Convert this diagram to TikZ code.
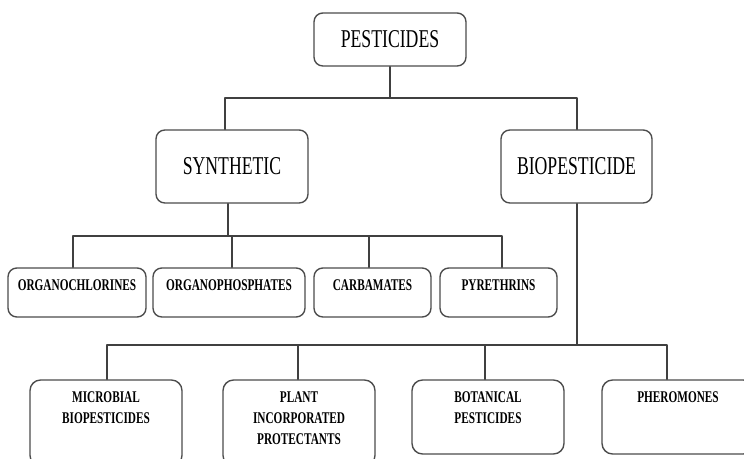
\documentclass[tikz,border=0pt]{standalone}
\usepackage{fontspec}
\setmainfont{Liberation Serif}[FakeStretch=0.69]
\begin{document}
\begin{tikzpicture}[x=0.02cm,y=-0.02cm, line join=round, line cap=round,
	box/.style={draw=black!70, line width=0.8pt, rounded corners=5pt, inner sep=0pt},
	link/.style={draw=black!75, line width=0.8pt},
	big/.style={font=\fontsize{14.6}{17}\selectfont},
	small/.style={font=\bfseries\fontsize{9.3}{11.95}\selectfont, align=center, inner sep=0pt, anchor=north}]
	\useasboundingbox (0,0) rectangle (744,459);
	\clip (0,0) rectangle (744,459);
	% top levels
	\node[box,big, minimum width=3.04cm, minimum height=1.06cm] (pest) at (390,39.5) {PESTICIDES};
	\node[box,big, minimum width=3.04cm, minimum height=1.46cm] (synth) at (232,166.5) {\raisebox{-2.5pt}{SYNTHETIC}};
	\node[box,big, minimum width=3.02cm, minimum height=1.46cm] (bio) at (576.5,166.5) {\raisebox{-2.5pt}{BIOPESTICIDE}};
	\coordinate (t1) at (225,98); \coordinate (t2) at (577,98);
	\draw[link] (pest) -- (pest |- t1);
	\draw[link] (synth.north -| t1) |- (t2) -- (bio.north -| t2);
	% synthetic
	\foreach \n/\x/\w/\t in {ochl/77/2.76/ORGANOCHLORINES, ophos/229/3.04/ORGANOPHOSPHATES, carb/372.5/2.34/CARBAMATES, pyr/498.5/2.34/PYRETHRINS}{
		\node[box, minimum width=\w cm, minimum height=0.98cm] (\n) at (\x,292.5) {};
		\node[small] (\n-t) at (\n.north) [yshift=-6.6pt] {\t};}
	\coordinate (s1) at (73,236); \coordinate (s2) at (502,236);
	\draw[link] (synth.south -| 228,0) -- (228,236);
	\draw[link] (ochl.north -| s1) |- (s2) -- (pyr.north -| s2);
	\draw[link] (ophos.north -| 232,0) -- (232,236);
	\draw[link] (carb.north -| 369,0) -- (369,236);
	% biopesticide
	\node[box, rounded corners=6pt, minimum width=3.04cm, minimum height=1.72cm] (micro) at (106,423) {};
	\node[box, rounded corners=6pt, minimum width=3.04cm, minimum height=1.72cm] (plant) at (299,423) {};
	\node[box, rounded corners=6pt, minimum width=3.04cm, minimum height=1.48cm] (bot) at (488,417) {};
	\node[box, rounded corners=6pt, minimum width=3.04cm, minimum height=1.48cm] (pher) at (678,417) {};
	\node[small] (micro-t) at (micro.north) [yshift=-7.1pt] {MICROBIAL\\BIOPESTICIDES};
	\node[small] (plant-t) at (plant.north) [yshift=-7.1pt] {PLANT\\INCORPORATED\\PROTECTANTS};
	\node[small] (bot-t) at (bot.north) [yshift=-7.1pt] {BOTANICAL\\PESTICIDES};
	\node[small] (pher-t) at (pher.north) [yshift=-7.1pt] {PHEROMONES};
	\coordinate (b1) at (107,345); \coordinate (b2) at (667,345);
	\draw[link] (bio.south -| 577,0) -- (577,345);
	\draw[link] (micro.north -| b1) |- (b2) -- (pher.north -| b2);
	\draw[link] (plant.north -| 298,0) -- (298,345);
	\draw[link] (bot.north -| 485,0) -- (485,345);
\end{tikzpicture}
\end{document}
